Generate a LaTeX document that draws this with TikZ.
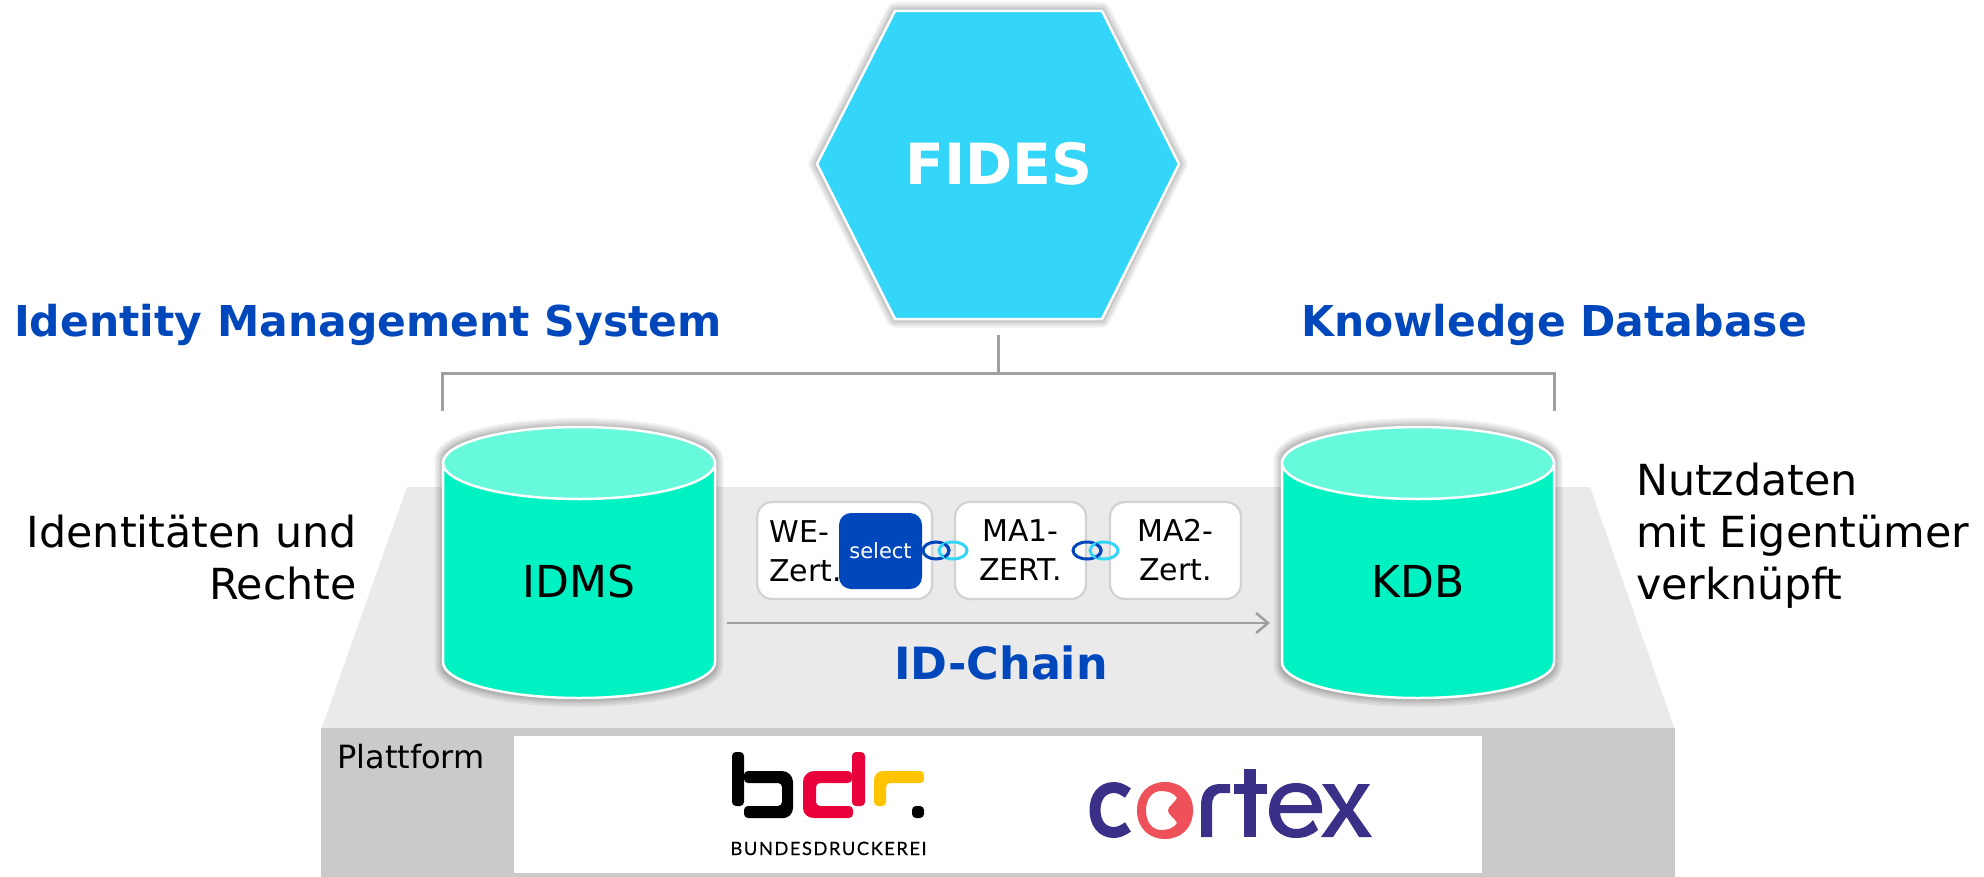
\documentclass[tikz,border=0pt]{standalone}
\usepackage{fontspec}
\setmainfont{DejaVu Sans}
\newfontfamily\bdrfont[LetterSpace=8,FakeBold=0.4]{Lato}
\usetikzlibrary{shapes.geometric,arrows.meta,calc}
\definecolor{headblue}{HTML}{0047BB}
\definecolor{cylbody}{HTML}{00F2C3}
\definecolor{cyltop}{HTML}{66F9DC}
\definecolor{hexblue}{HTML}{33D6F8}
\definecolor{linegray}{HTML}{A0A0A0}
\definecolor{plateau}{HTML}{EAEAEA}
\definecolor{platform}{HTML}{CACACA}
\definecolor{boxline}{HTML}{D2D2D2}
\definecolor{bdrred}{HTML}{E9003A}
\definecolor{bdryellow}{HTML}{FFC300}
\definecolor{cxblue}{HTML}{3B3087}
\definecolor{cxred}{HTML}{EE5159}
\newcommand\softshadow[1]{\foreach \w in {17,13,9,6,3}{\draw[black,opacity=.06,line width=\w*.5pt,line join=round] #1;}}
\newcommand\txt[2]{\fontsize{#1}{#2}\selectfont}
\tikzset{
  x=.5pt,y=-.5pt,
  label text/.style={inner sep=0pt,outer sep=0pt,font=\txt{21.4}{26}},
  heading/.style={inner sep=0pt,text=headblue,font=\txt{21.25}{26}\bfseries,anchor=base},
  database/.style={cylinder,shape border rotate=90,draw=white,line width=1.25pt,aspect=.6,
    cylinder uses custom fill,cylinder body fill=cylbody,cylinder end fill=cyltop,
    minimum width=136pt,minimum height=135.5pt,inner sep=0pt,outer sep=0pt,anchor=shape center,
    text width=60pt,align=center,text height=16pt,text depth=0pt,font=\txt{22}{26}},
  cert/.style={draw=boxline,line width=1.1pt,fill=white,rounded corners=7.5pt,inner sep=0pt,
    font=\txt{15}{19.5},align=center},
  selectbtn/.style={fill=headblue,rounded corners=6pt,text=white,inner sep=0pt,font=\txt{10.5}{12}},
  linkdark/.style={draw=headblue,line width=1.5pt},
  linklight/.style={draw=hexblue,line width=1.5pt},
  bracket/.style={draw=linegray,line width=1.5pt},
  chain/.style={draw=linegray,line width=1.25pt,-{Straight Barb[length=6pt,width=10pt]}},
}
\begin{document}
\begin{tikzpicture}
\useasboundingbox (0,0) rectangle (1984,877);
% plateau and platform
\fill[plateau] (407,487) -- (1590,487) -- (1675,730) -- (321,730) -- cycle;
\fill[platform] (321,728) rectangle (1675,877);
\fill[white] (514,736) rectangle (1482,873);
\node[anchor=base,inner sep=0pt,font=\txt{16}{18}] (plattform) at (411,768) {Plattform};
% hexagon
\softshadow{(817,164) -- (895,11) -- (1102,11) -- (1179,164) -- (1102,319) -- (895,319) -- cycle}
\draw[white,line width=1.25pt,fill=hexblue,line join=miter] (817,164) -- (895,11) -- (1102,11) -- (1179,164) -- (1102,319) -- (895,319) -- cycle;
\node[inner sep=0pt,anchor=base,text=white,font=\txt{28.4}{30}\bfseries] (fides) at (999,185) {FIDES};
% cylinder shadows
\softshadow{(443,460) arc[start angle=180,end angle=0,x radius=68pt,y radius=16.75pt] -- (715,665) arc[start angle=0,end angle=-180,x radius=68pt,y radius=16.75pt] -- cycle}
\softshadow{(1282,460) arc[start angle=180,end angle=0,x radius=68pt,y radius=16.75pt] -- (1554,665) arc[start angle=0,end angle=-180,x radius=68pt,y radius=16.75pt] -- cycle}
\node[database] (idms) at (579,562.5) {IDMS};
\node[database] (kdb) at (1418,562.5) {KDB};
% headings
\node[heading] (ims) at (368,336) {Identity Management System};
\node[heading] (kdbh) at (1554,336) {Knowledge Database};
\node[heading,font=\txt{22.2}{26}\bfseries] (chainlabel) at (1001,679) {ID-Chain};
% side texts
\node[label text,align=right,anchor=east] (ident) at (357,558) {Identitäten und\\Rechte};
\node[label text,align=left,anchor=west] (nutz) at (1636,536) {Nutzdaten\\mit Eigentümer\\verknüpft};
% certs
\node[cert,minimum width=87.5pt,minimum height=48.5pt] (we) at (844.75,550.5) {};
\node[inner sep=0pt,font=\txt{15}{19.5},align=left,anchor=west] (wetext) at (769,551) {WE-\\Zert.};
\node[selectbtn,minimum width=41.5pt,minimum height=38pt] (sel) at (880.5,551) {select};
\node[cert,minimum width=65.5pt,minimum height=48.5pt] (ma1) at (1020.5,550.5) {MA1-\\ZERT.};
\node[cert,minimum width=65.5pt,minimum height=48.5pt] (ma2) at (1175.5,550.5) {MA2-\\Zert.};
% chain links
\coordinate (la) at (936,550.5);
\coordinate (lb) at (953,550.5);
\coordinate (lc) at (1087,550.5);
\coordinate (ld) at (1104,550.5);
\draw[linkdark] (la) ellipse[x radius=6.5pt,y radius=4.25pt];
\draw[linklight] (lb) ellipse[x radius=7pt,y radius=4.25pt];
\draw[linkdark] ($(la)+(-50:6.5pt and 4.25pt)$) arc[start angle=-50,end angle=50,x radius=6.5pt,y radius=4.25pt];
\draw[linkdark] (lc) ellipse[x radius=7pt,y radius=4.25pt];
\draw[linklight] (ld) ellipse[x radius=7pt,y radius=4.25pt];
\draw[linkdark] ($(lc)+(-50:7pt and 4.25pt)$) arc[start angle=-50,end angle=50,x radius=7pt,y radius=4.25pt];
% connectors
\coordinate (barmid) at (998,373);
\coordinate (stub) at (998,335);
\coordinate (chainy) at (0,623);
\draw[bracket] (stub) -- (barmid);
\path (idms.west |- barmid) coordinate (c1) (kdb.east |- barmid) coordinate (c2);
\draw[bracket] ([yshift=-19pt]c1) -- (c1) -- (c2) -- ([yshift=-19pt]c2);
\path (idms.east |- chainy) ++(12,0) coordinate (cs) (kdb.west |- chainy) ++(-12,0) coordinate (ce);
\draw[chain] (cs) -- (ce);
% bdr logo
\fill[black,rounded corners=2pt] (732,752) rectangle (744,806);
\fill[black,rounded corners=2pt] (744,771) -- (778,771) .. controls (788,771) and (793,776) .. (793,786) -- (793,804) .. controls (793,814) and (788,818) .. (780,818) -- (744,818) -- (744,806) -- (782,806) -- (782,783) -- (744,783) -- cycle;
\fill[bdrred,rounded corners=2pt] (852,771) -- (818,771) .. controls (808,771) and (803,776) .. (803,786) -- (803,804) .. controls (803,814) and (808,818) .. (818,818) -- (853,818) -- (853,806) -- (816,806) -- (816,783) -- (852,783) -- cycle;
\fill[bdrred,rounded corners=2pt] (852,752) rectangle (865,806);
\fill[bdryellow,rounded corners=2pt] (874,806) -- (874,784) .. controls (874,775) and (878,771) .. (887,771) -- (924,771) -- (924,783) -- (886,783) -- (886,806) -- cycle;
\fill[black,rounded corners=2pt] (912,806) rectangle (924,818);
\node[inner sep=0pt,anchor=base,font=\txt{9.2}{10}\bdrfont] (bundes) at (828.5,855) {BUNDESDRUCKEREI};
% cortex logo
\draw[cxblue,line width=5.5pt] (1128,793) .. controls (1122,789) and (1118,787.5) .. (1114,787.5) .. controls (1102,787.5) and (1095,797) .. (1095,810) .. controls (1095,823) and (1102,832.5) .. (1114,832.5) .. controls (1118,832.5) and (1122,831) .. (1128,827);
\fill[cxred,even odd rule] (1137,810.5) .. controls (1137,793) and (1149,782) .. (1165,782) .. controls (1181,782) and (1193,793) .. (1193,810.5) .. controls (1193,828) and (1181,839) .. (1165,839) .. controls (1149,839) and (1137,828) .. (1137,810.5) -- cycle
 (1146,810.5) .. controls (1146,799) and (1152,791) .. (1161,791) .. controls (1168,791) and (1174,793) .. (1177,798) .. controls (1175,803) and (1168,806) .. (1168,810.5) .. controls (1168,815) and (1175,818) .. (1177,823) .. controls (1174,828) and (1168,830) .. (1161,830) .. controls (1152,830) and (1146,822) .. (1146,810.5) -- cycle;
\fill[cxblue] (1201,837) -- (1201,805) .. controls (1201,792) and (1208,784) .. (1220,784) -- (1230,784) -- (1230,793) -- (1222,793) .. controls (1215,793) and (1212,798) .. (1212,805) -- (1212,837) -- cycle;
\fill[cxblue] (1244,769) rectangle (1256,837);
\fill[cxblue] (1234,784) rectangle (1267,794);
\fill[cxblue,even odd rule] (1322,813) .. controls (1323,795) and (1313,783) .. (1296,783) .. controls (1279,783) and (1269,796) .. (1269,810.5) .. controls (1269,826) and (1279,838) .. (1296,838) .. controls (1305,838) and (1312,835) .. (1318,830) -- (1313,820) .. controls (1308,826) and (1303,829) .. (1296,829) .. controls (1287,829) and (1281,822) .. (1280,813) -- cycle
 (1280,805) .. controls (1281,797) and (1287,792) .. (1296,792) .. controls (1305,792) and (1311,797) .. (1312,805) -- cycle;
\fill[cxblue] (1322,784) -- (1334,784) -- (1346.5,804.5) -- (1358,784) -- (1370,784) -- (1353,810) -- (1372,837) -- (1359,837) -- (1346.5,817) -- (1333,837) -- (1321,837) -- (1340,810) -- cycle;
\end{tikzpicture}
\end{document}
